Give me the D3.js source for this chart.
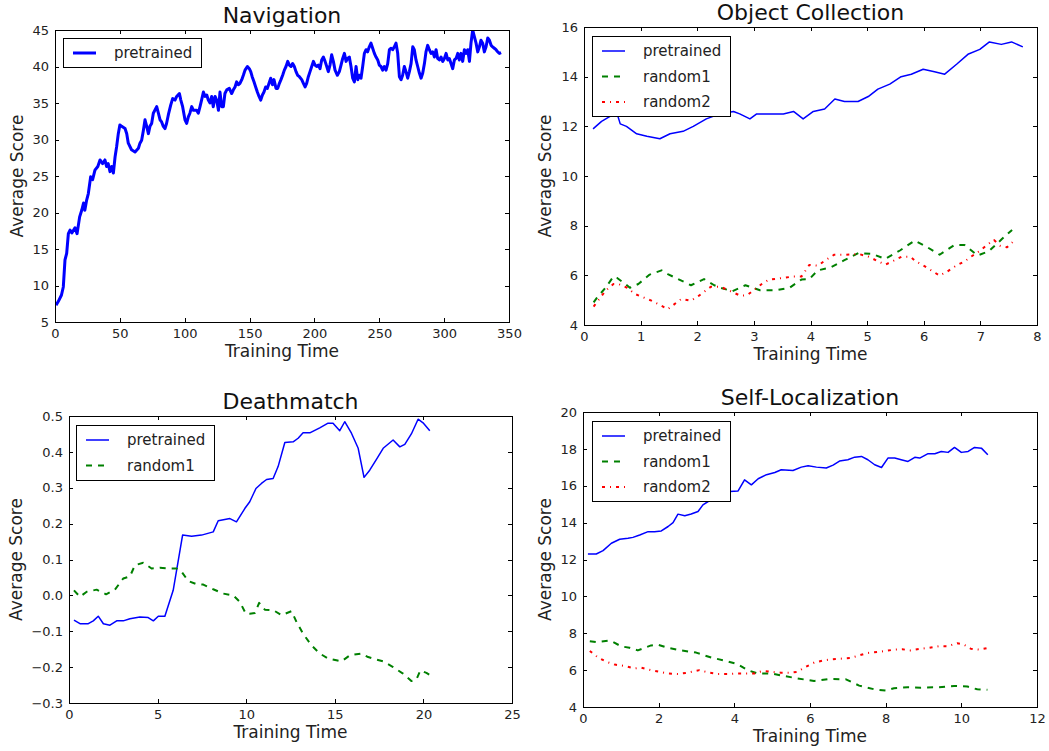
<!DOCTYPE html>
<html>
<head>
<meta charset="utf-8">
<script src="https://cdn.jsdelivr.net/npm/d3@7"></script>
<style>
  body { margin: 0; background: #fff; }
  svg text { font-family: "DejaVu Sans", sans-serif; }
</style>
</head>
<body>
<div id="chart"></div>
<script>
// ---- Navigation ----
const navTime = [
  0.8, 2.5, 5, 6.4, 7.7, 9, 10.3, 11.6, 13, 15.4,
  17, 19, 20.6, 22, 23, 24.4, 25.7, 27.5, 29, 30.8,
  33, 34.7, 36.7, 38.5, 39.8, 41, 42.4, 43.7, 45, 46.3,
  47.5, 48.8, 50, 51.4, 54, 55.3, 56.5, 59, 61.7, 64.3,
  65.5, 66.8, 68, 69.4, 70.7, 72, 73.2, 74.5, 75.8, 78.4,
  79.7, 81, 82.2, 83.5, 84.8, 86, 87.4, 89.2, 90.7, 92.5,
  93.8, 95.9, 97, 98.4, 100.2, 101.5, 102.8, 104, 105.4, 106.7,
  109.2, 110.5, 111.8, 113, 114.4, 115.7, 117, 118.2, 119.5, 120.8,
  122, 123.4, 124.6, 126, 127.2, 128.5, 129.8, 131, 132.4, 134.4,
  136.2, 137.5, 138.8, 140, 141.3, 142.6, 144, 145.2, 146.5, 148.3,
  149.8, 150.9, 152, 153.4, 154.7, 156, 157.3, 158.6, 159.9, 161.1,
  162.4, 163.7, 165, 166.3, 167.6, 168.8, 170.4, 171.7, 173, 174.2,
  175.5, 176.8, 178.1, 179.4, 180.7, 182, 183.2, 184.5, 185.8, 187.1,
  188.4, 190.2, 191.5, 192.8, 194, 195.3, 196.6, 197.9, 199.2, 200.5,
  201.7, 203, 204.3, 205.6, 206.9, 208.2, 209.5, 210.7, 212, 213.3,
  214.6, 215.9, 217.7, 219.2, 220.5, 221.8, 223.1, 224.4, 225.6, 226.9,
  228.2, 229.5, 230.8, 232.1, 233.4, 234.6, 235.9, 237.2, 238.5, 239.8,
  241, 242.3, 243.6, 244.9, 246.2, 247.5, 248.8, 250, 251.3, 252.6,
  253.9, 255.2, 256.5, 257.8, 259.1, 260.3, 261.6, 262.9, 264.2, 265.5,
  266.8, 268, 269.3, 270.6, 271.9, 273.2, 274.5, 275.8, 277, 278.3,
  279.6, 280.9, 282.2, 283.5, 284.8, 286, 287.3, 288.6, 289.9, 291.2,
  292.5, 293.8, 295, 296.3, 297.6, 298.9, 300.2, 301.5, 302.8, 304,
  305.3, 306.6, 307.9, 309.2, 310.5, 311.7, 313, 314.3, 315.6, 316.9,
  318.2, 319.5, 320.7, 322, 323.3, 324.6, 325.9, 327.2, 328.4, 329.7,
  331, 332.3, 333.6, 334.9, 336.2, 337.4, 338.7, 340, 341.3, 342.6,
  343.9
];
const navPretrained = [
  7.3, 7.8, 8.7, 9.8, 13.5, 14.4, 17.1, 17.6, 17.2, 17.9,
  17.1, 19.4, 20.3, 21.3, 20.3, 21.7, 22.6, 24.9, 24.5, 25.8,
  26.3, 27.2, 26.7, 27.2, 26.3, 26.7, 25.6, 26.3, 25.4, 27.6,
  29, 30.8, 32, 31.8, 31.5, 30.8, 29.5, 28.6, 28.3, 28.8,
  29.5, 29.9, 31.1, 32.7, 31.8, 30.8, 31.8, 32.2, 33.6, 34.5,
  33.6, 32.7, 32.4, 31.8, 31.5, 32.2, 33.4, 34.7, 35.6, 35.4,
  35.9, 36.3, 35.4, 34.5, 32.7, 32.2, 33.1, 33.6, 34.5, 34,
  34, 33.6, 34.5, 35.4, 36.5, 35.9, 36.1, 35.4, 35, 35.9,
  34.5, 35.9, 35.4, 34, 36.5, 34.5, 34.5, 36.3, 36.8, 37,
  36.3, 36.8, 37.2, 37.9, 37.5, 37.7, 38.2, 38.8, 39.5, 40,
  39.7, 39.3, 38.6, 37.9, 37.2, 36.5, 35.9, 35.4, 36.1, 36.5,
  37.2, 37, 37.7, 38.4, 37.5, 38.2, 37, 37, 37.7, 38.2,
  38.8, 39.5, 40, 40.7, 40.2, 40, 40.4, 40, 39.3, 38.8,
  38.6, 38.2, 37.7, 37.2, 37.7, 38.6, 39.3, 40, 40.7, 40.2,
  40, 40.2, 39.7, 40.9, 41.3, 40.7, 40, 39.3, 40.2, 41.6,
  40.7, 39.5, 38.8, 39.3, 40.2, 41.1, 41.8, 40.7, 41.1, 41.3,
  40, 38.4, 37.9, 40, 38.2, 38.8, 38.4, 40, 41.8, 42.3,
  42, 42.7, 43.2, 42.5, 41.8, 41.3, 40.9, 40.2, 40, 39.5,
  40, 39.5, 40.4, 42.3, 42.5, 42.3, 42.7, 43.2, 41.8, 38.6,
  38.2, 38.8, 40, 39.3, 38.4, 39.3, 40.4, 42.7, 42.3, 40.9,
  40, 39.1, 38.4, 39.1, 40.4, 42, 42.9, 42.3, 41.8, 42,
  41.3, 42.3, 41.1, 40.9, 41.3, 40.7, 41.1, 41.8, 40.9, 41.1,
  40.4, 39.7, 40.9, 41.1, 41.8, 40.9, 41.8, 40.7, 42.3, 41.8,
  42.3, 40.7, 43.2, 45, 44.1, 43.2, 42, 42.7, 43.6, 43.2,
  42, 42.7, 43.9, 43.6, 42.9, 42.7, 42.5, 42.3, 42, 41.8,
  41.9
];

// ---- Object Collection ----
const ocPretrainedTime = [0.16, 0.31, 0.46, 0.58, 0.64, 0.75, 0.93, 1.11, 1.34, 1.52, 1.75, 1.93, 2.16, 2.4, 2.64, 2.75, 2.93, 3.05, 3.28, 3.52, 3.7, 3.87, 4.05, 4.25, 4.43, 4.6, 4.84, 5.02, 5.19, 5.4, 5.6, 5.78, 5.99, 6.19, 6.37, 6.58, 6.78, 6.99, 7.16, 7.37, 7.55, 7.75];
const ocPretrained = [11.9, 12.2, 12.4, 12.55, 12.1, 12.0, 11.7, 11.6, 11.5, 11.7, 11.8, 12.0, 12.3, 12.5, 12.6, 12.5, 12.3, 12.5, 12.5, 12.5, 12.6, 12.3, 12.6, 12.7, 13.1, 13.0, 13.0, 13.2, 13.5, 13.7, 14.0, 14.1, 14.3, 14.2, 14.1, 14.5, 14.9, 15.1, 15.4, 15.3, 15.4, 15.2];
const ocRandom1Time = [0.17, 0.23, 0.38, 0.52, 0.58, 0.73, 0.81, 0.96, 1.16, 1.37, 1.48, 1.66, 1.89, 2.12, 2.3, 2.41, 2.62, 2.85, 3.11, 3.4, 3.63, 3.84, 3.98, 4.13, 4.36, 4.59, 4.85, 5.09, 5.32, 5.58, 5.84, 6.05, 6.28, 6.54, 6.72, 6.95, 7.15, 7.38, 7.56];
const ocRandom1 = [4.91, 5.1, 5.5, 5.95, 5.9, 5.65, 5.5, 5.65, 6.03, 6.2, 6.05, 5.85, 5.6, 5.85, 5.6, 5.5, 5.36, 5.6, 5.4, 5.4, 5.5, 5.83, 5.85, 6.2, 6.32, 6.6, 6.9, 6.86, 6.66, 7.0, 7.4, 7.15, 6.83, 7.22, 7.22, 6.8, 6.97, 7.46, 7.83];
const ocRandom2Time = [0.17, 0.38, 0.52, 0.61, 0.76, 0.9, 1.19, 1.48, 1.72, 1.89, 2.03, 2.24, 2.41, 2.59, 2.76, 2.88, 3.14, 3.26, 3.46, 3.69, 3.84, 3.98, 4.13, 4.27, 4.42, 4.62, 4.85, 5.03, 5.17, 5.32, 5.47, 5.61, 5.76, 5.87, 6.02, 6.16, 6.28, 6.42, 6.57, 6.72, 6.86, 7.0, 7.12, 7.24, 7.35, 7.47, 7.58];
const ocRandom2 = [4.74, 5.38, 5.65, 5.65, 5.5, 5.25, 4.98, 4.64, 5.05, 4.98, 5.18, 5.54, 5.54, 5.36, 5.18, 5.2, 5.65, 5.82, 5.88, 5.95, 5.95, 6.42, 6.39, 6.62, 6.83, 6.83, 6.86, 6.75, 6.59, 6.43, 6.59, 6.75, 6.75, 6.55, 6.36, 6.16, 5.99, 6.16, 6.39, 6.56, 6.79, 7.0, 7.23, 7.42, 7.19, 7.13, 7.36];

// ---- Deathmatch ----
const dmPretrainedTime = [0.28, 0.62, 1.09, 1.37, 1.65, 1.94, 2.31, 2.69, 3.06, 3.44, 4.0, 4.47, 4.76, 5.04, 5.41, 5.88, 6.41, 6.92, 7.48, 8.14, 8.42, 9.08, 9.45, 9.92, 10.2, 10.55, 10.86, 11.15, 11.52, 11.8, 12.18, 12.65, 12.93, 13.21, 13.59, 14.15, 14.62, 14.9, 15.28, 15.56, 15.94, 16.32, 16.65, 16.97, 17.35, 17.73, 18.29, 18.67, 18.95, 19.32, 19.7, 19.98, 20.36];
const dmPretrained = [-0.069, -0.079, -0.079, -0.071, -0.058, -0.079, -0.083, -0.071, -0.071, -0.065, -0.06, -0.062, -0.071, -0.058, -0.058, 0.014, 0.168, 0.165, 0.168, 0.177, 0.208, 0.214, 0.205, 0.242, 0.261, 0.298, 0.312, 0.323, 0.326, 0.359, 0.426, 0.428, 0.438, 0.453, 0.453, 0.467, 0.48, 0.48, 0.459, 0.484, 0.452, 0.41, 0.329, 0.349, 0.379, 0.41, 0.433, 0.414, 0.421, 0.45, 0.491, 0.481, 0.459];
const dmRandom1Time = [0.28, 0.62, 1.0, 1.56, 2.09, 2.59, 3.06, 3.44, 3.72, 4.19, 4.66, 5.13, 5.6, 6.07, 6.35, 6.73, 7.2, 7.58, 8.14, 8.7, 9.27, 9.64, 9.98, 10.2, 10.49, 10.73, 11.05, 11.52, 11.99, 12.56, 12.84, 13.21, 13.68, 14.15, 14.62, 15.09, 15.38, 15.85, 16.5, 16.88, 17.35, 17.73, 18.29, 18.85, 19.32, 19.6, 19.83, 20.17, 20.55];
const dmRandom1 = [0.014, -0.004, 0.01, 0.016, 0.003, 0.016, 0.047, 0.053, 0.084, 0.091, 0.075, 0.077, 0.075, 0.075, 0.066, 0.04, 0.031, 0.03, 0.017, 0.005, 0.0, -0.018, -0.051, -0.051, -0.049, -0.021, -0.04, -0.041, -0.055, -0.044, -0.074, -0.107, -0.139, -0.162, -0.176, -0.181, -0.184, -0.167, -0.162, -0.172, -0.179, -0.184, -0.2, -0.218, -0.239, -0.235, -0.209, -0.216, -0.227];

// ---- Self-Localization ----
const slPretrainedTime = [0.13, 0.35, 0.53, 0.75, 0.97, 1.19, 1.32, 1.5, 1.72, 1.89, 2.07, 2.25, 2.38, 2.51, 2.69, 2.86, 3.04, 3.17, 3.35, 3.52, 3.7, 3.88, 4.1, 4.27, 4.45, 4.63, 4.85, 5.07, 5.24, 5.55, 5.77, 5.95, 6.17, 6.43, 6.61, 6.78, 7.0, 7.18, 7.36, 7.53, 7.71, 7.89, 8.06, 8.24, 8.41, 8.59, 8.77, 8.9, 9.12, 9.3, 9.47, 9.65, 9.82, 10.0, 10.18, 10.35, 10.53, 10.7];
const slPretrained = [12.3, 12.3, 12.48, 12.88, 13.1, 13.15, 13.2, 13.33, 13.51, 13.51, 13.55, 13.79, 14.0, 14.46, 14.37, 14.47, 14.6, 14.96, 15.2, 15.33, 15.5, 15.69, 15.72, 16.32, 16.05, 16.38, 16.6, 16.72, 16.87, 16.83, 17.01, 17.08, 17.01, 16.96, 17.12, 17.34, 17.41, 17.55, 17.59, 17.41, 17.14, 16.99, 17.5, 17.5, 17.41, 17.32, 17.54, 17.5, 17.74, 17.74, 17.86, 17.81, 18.08, 17.81, 17.86, 18.08, 18.04, 17.68];
const slRandom1Time = [0.18, 0.35, 0.66, 0.75, 1.01, 1.23, 1.45, 1.8, 1.98, 2.24, 2.59, 2.99, 3.39, 3.78, 4.09, 4.35, 4.62, 4.97, 5.32, 5.67, 6.11, 6.51, 6.95, 7.3, 7.7, 8.0, 8.22, 8.58, 8.93, 9.37, 9.81, 10.16, 10.42, 10.69];
const slRandom1 = [7.57, 7.52, 7.6, 7.57, 7.29, 7.21, 7.07, 7.34, 7.38, 7.21, 7.07, 6.95, 6.68, 6.5, 6.32, 6.0, 5.82, 5.82, 5.68, 5.55, 5.41, 5.52, 5.5, 5.16, 4.96, 4.89, 5.02, 5.07, 5.05, 5.07, 5.14, 5.11, 4.96, 4.93];
const slRandom2Time = [0.18, 0.4, 0.62, 0.84, 1.1, 1.36, 1.54, 1.8, 2.02, 2.24, 2.51, 2.77, 3.08, 3.34, 3.56, 3.83, 4.09, 4.31, 4.53, 4.75, 4.97, 5.23, 5.45, 5.67, 5.89, 6.11, 6.38, 6.6, 6.86, 7.08, 7.3, 7.52, 7.78, 8.0, 8.22, 8.44, 8.66, 8.93, 9.15, 9.41, 9.63, 9.89, 10.07, 10.25, 10.47, 10.73];
const slRandom2 = [7.04, 6.68, 6.45, 6.3, 6.23, 6.09, 6.13, 6.0, 5.91, 5.82, 5.79, 5.86, 6.0, 5.86, 5.79, 5.79, 5.82, 5.82, 5.82, 5.96, 5.91, 5.86, 5.86, 5.91, 6.18, 6.41, 6.54, 6.59, 6.63, 6.66, 6.8, 6.93, 6.98, 7.04, 7.11, 7.13, 7.07, 7.16, 7.21, 7.3, 7.29, 7.46, 7.38, 7.16, 7.11, 7.21];

// tick values
const navXTicks = [0, 50, 100, 150, 200, 250, 300, 350];
const navYTicks = [5, 10, 15, 20, 25, 30, 35, 40, 45];
const ocXTicks = [0, 1, 2, 3, 4, 5, 6, 7, 8];
const ocYTicks = [4, 6, 8, 10, 12, 14, 16];
const dmXTicks = [0, 5, 10, 15, 20, 25];
const dmYTicks = [-0.3, -0.2, -0.1, 0.0, 0.1, 0.2, 0.3, 0.4, 0.5];
const slXTicks = [0, 2, 4, 6, 8, 10, 12];
const slYTicks = [4, 6, 8, 10, 12, 14, 16, 18, 20];

const STYLE = {
  pretrained: { color: '#0000ff', width: 1.5, dash: null },
  random1: { color: '#008000', width: 2, dash: '6,6' },
  random2: { color: '#ff0000', width: 2, dash: '3,5,1,5' }
};

const panels = [
  { id: 'nav', title: 'Navigation', box: [55, 30, 454, 292], xDomain: [0, 350], yDomain: [5, 45],
    xTicks: navXTicks, yTicks: navYTicks, yFormat: d3.format('d'), ylabelX: 17, legendPos: [8, 8],
    series: [{ name: 'pretrained', x: navTime, y: navPretrained, width: 3 }] },
  { id: 'oc', title: 'Object Collection', box: [584, 27, 453, 298], xDomain: [0, 8], yDomain: [4, 16],
    xTicks: ocXTicks, yTicks: ocYTicks, yFormat: d3.format('d'), ylabelX: 545, legendPos: [8, 9],
    series: [
      { name: 'pretrained', x: ocPretrainedTime, y: ocPretrained },
      { name: 'random1', x: ocRandom1Time, y: ocRandom1 },
      { name: 'random2', x: ocRandom2Time, y: ocRandom2 }
    ] },
  { id: 'dm', title: 'Deathmatch', box: [69, 416, 443, 287], xDomain: [0, 25], yDomain: [-0.3, 0.5],
    xTicks: dmXTicks, yTicks: dmYTicks, yFormat: d3.format('.1f'), ylabelX: 16, legendPos: [7, 9],
    series: [
      { name: 'pretrained', x: dmPretrainedTime, y: dmPretrained },
      { name: 'random1', x: dmRandom1Time, y: dmRandom1 }
    ] },
  { id: 'sl', title: 'Self-Localization', box: [583, 412, 454, 295], xDomain: [0, 12], yDomain: [4, 20],
    xTicks: slXTicks, yTicks: slYTicks, yFormat: d3.format('d'), ylabelX: 545, legendPos: [9, 9],
    series: [
      { name: 'pretrained', x: slPretrainedTime, y: slPretrained },
      { name: 'random1', x: slRandom1Time, y: slRandom1 },
      { name: 'random2', x: slRandom2Time, y: slRandom2 }
    ] }
];

const svg = d3.select('#chart').append('svg')
  .attr('width', 1049)
  .attr('height', 751)
  .style('display', 'block');

svg.append('rect').attr('width', 1049).attr('height', 751).attr('fill', '#fff');

function styleAxis(sel) {
  sel.attr('font-size', 13)
    .attr('font-family', '"DejaVu Sans", sans-serif')
    .attr('color', '#000');
  sel.select('.domain').remove();
  sel.selectAll('.tick text').attr('fill', '#222');
  sel.selectAll('.tick line').attr('shape-rendering', 'crispEdges');
}

function drawPanel(p) {
  const [left, top, w, h] = p.box;
  const g = svg.append('g').attr('transform', `translate(${left},${top})`);

  const x = d3.scaleLinear().domain(p.xDomain).range([0, w]);
  const y = d3.scaleLinear().domain(p.yDomain).range([h, 0]);

  g.append('clipPath').attr('id', 'clip-' + p.id)
    .append('rect').attr('width', w).attr('height', h);

  const line = d3.line().x(d => x(d[0])).y(d => y(d[1]));

  const plot = g.append('g').attr('clip-path', `url(#clip-${p.id})`);
  p.series.forEach(s => {
    const st = STYLE[s.name];
    plot.append('path')
      .datum(d3.zip(s.x, s.y))
      .attr('d', line)
      .attr('fill', 'none')
      .attr('stroke', st.color)
      .attr('stroke-width', s.width || st.width)
      .attr('stroke-dasharray', st.dash)
      .attr('stroke-linejoin', 'round');
  });

  // ticks on all four sides, pointing inward (classic matplotlib)
  g.append('g').attr('transform', `translate(0,${h})`)
    .call(d3.axisBottom(x).tickValues(p.xTicks).tickSizeInner(-4).tickSizeOuter(0).tickPadding(7).tickFormat(d3.format('d')))
    .call(styleAxis);
  g.append('g')
    .call(d3.axisTop(x).tickValues(p.xTicks).tickSizeInner(-4).tickSizeOuter(0).tickFormat(''))
    .call(styleAxis);
  g.append('g')
    .call(d3.axisLeft(y).tickValues(p.yTicks).tickSizeInner(-4).tickSizeOuter(0).tickPadding(6).tickFormat(p.yFormat))
    .call(styleAxis);
  g.append('g').attr('transform', `translate(${w},0)`)
    .call(d3.axisRight(y).tickValues(p.yTicks).tickSizeInner(-4).tickSizeOuter(0).tickFormat(''))
    .call(styleAxis);

  g.append('rect')
    .attr('width', w).attr('height', h)
    .attr('fill', 'none').attr('stroke', '#000').attr('stroke-width', 1)
    .attr('shape-rendering', 'crispEdges');

  // legend
  const n = p.series.length;
  const lg = g.append('g').attr('transform', `translate(${p.legendPos[0]},${p.legendPos[1]})`);
  lg.append('rect')
    .attr('width', 138).attr('height', n * 25.5 + 4)
    .attr('fill', '#fff').attr('stroke', '#000').attr('stroke-width', 1)
    .attr('shape-rendering', 'crispEdges');
  p.series.forEach((s, i) => {
    const st = STYLE[s.name];
    const yy = 15 + i * 25.5;
    lg.append('line')
      .attr('x1', 10).attr('x2', 33).attr('y1', yy).attr('y2', yy)
      .attr('stroke', st.color)
      .attr('stroke-width', s.width || st.width)
      .attr('stroke-dasharray', st.dash);
    lg.append('text')
      .attr('x', 51).attr('y', yy).attr('dy', '0.35em')
      .attr('font-size', 15).attr('fill', '#222')
      .text(s.name);
  });

  g.append('text')
    .attr('x', w / 2).attr('y', -7)
    .attr('text-anchor', 'middle')
    .attr('font-size', 22).attr('fill', '#111')
    .text(p.title);

  g.append('text')
    .attr('x', w / 2).attr('y', h + 35)
    .attr('text-anchor', 'middle')
    .attr('font-size', 17).attr('fill', '#222')
    .text('Training Time');

  g.append('text')
    .attr('transform', `translate(${p.ylabelX - left},${h / 2}) rotate(-90)`)
    .attr('text-anchor', 'middle').attr('dy', '0.35em')
    .attr('font-size', 17).attr('fill', '#222')
    .text('Average Score');
}

panels.forEach(drawPanel);
</script>
</body>
</html>
